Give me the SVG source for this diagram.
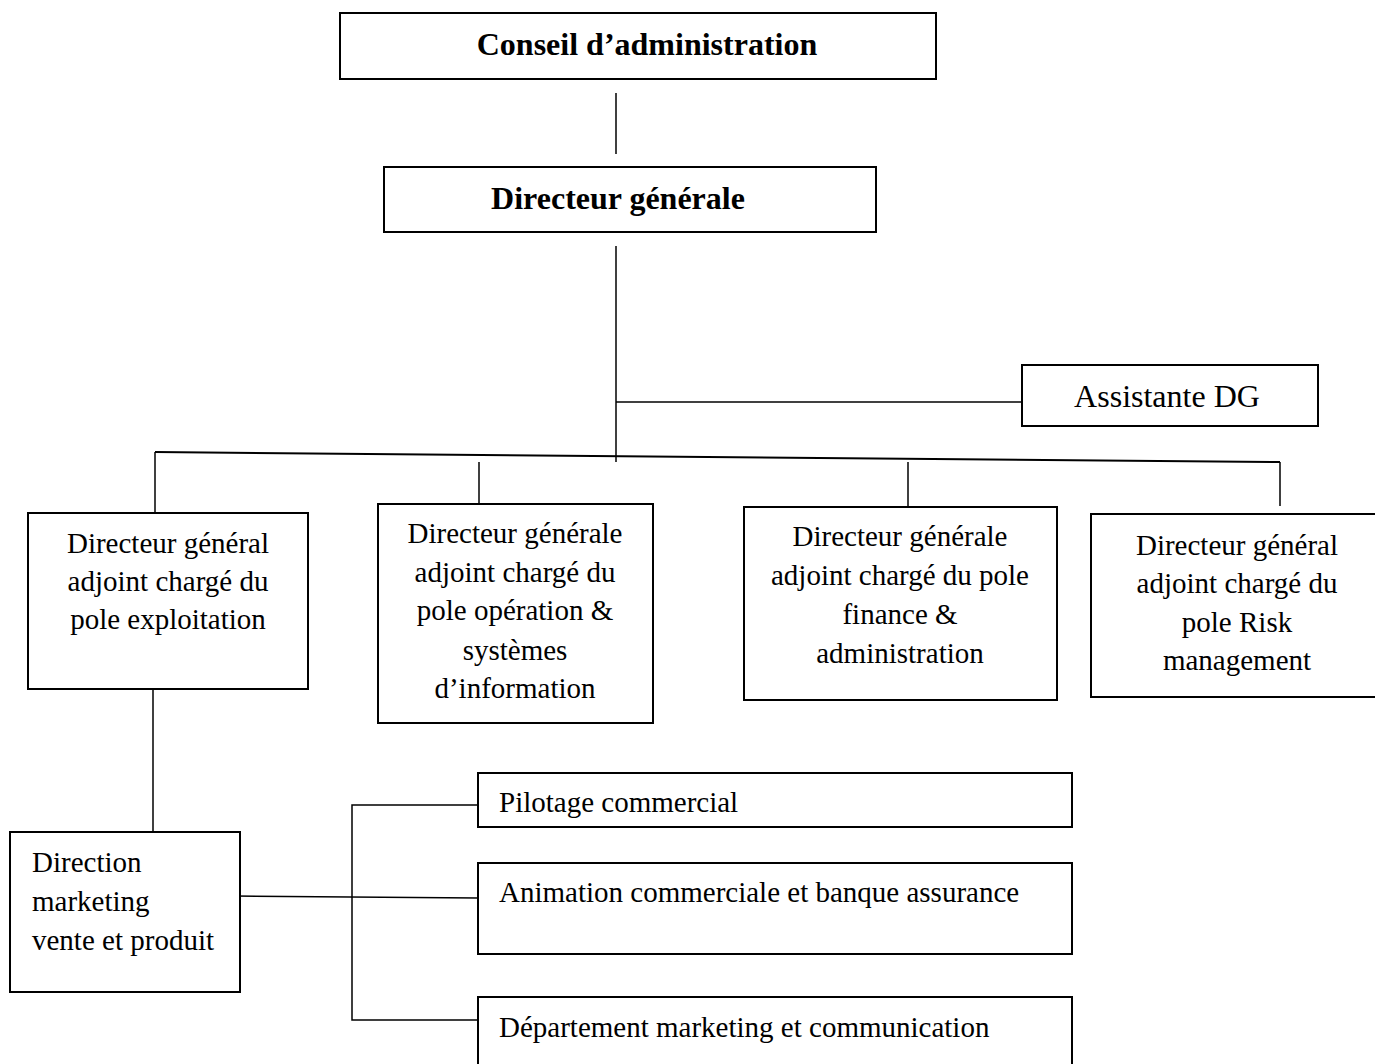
<svg xmlns="http://www.w3.org/2000/svg" width="1375" height="1064" viewBox="0 0 1375 1064">
<style>
rect{fill:#fff;stroke:#000;stroke-width:2}
line,polyline{stroke:#000;stroke-width:1.5;fill:none}
text{font-family:"Liberation Serif","Times New Roman",serif;font-size:29px;fill:#000}
.b{font-weight:bold;font-size:32px}
.c{text-anchor:middle}
</style>
<rect x="0" y="0" width="1375" height="1064" style="fill:#fff;stroke:none"/>
<g id="connectors">
<line x1="616" y1="93" x2="616" y2="154"/>
<line x1="616" y1="246" x2="616" y2="462"/>
<line x1="616" y1="402" x2="1022" y2="402"/>
<line x1="155" y1="452" x2="1280" y2="462" style="stroke-width:2"/>
<line x1="155" y1="452" x2="155" y2="513"/>
<line x1="479" y1="462" x2="479" y2="504"/>
<line x1="908" y1="462" x2="908" y2="507"/>
<line x1="1280" y1="462" x2="1280" y2="506"/>
<line x1="153" y1="690" x2="153" y2="832"/>
<line x1="235" y1="896" x2="478" y2="898"/>
<polyline points="478,805 352,805 352,1020 478,1020"/>
</g>
<g id="conseil"><rect x="340" y="13" width="596" height="66"/><text class="b c" x="647" y="55">Conseil d’administration</text></g>
<g id="dg"><rect x="384" y="167" width="492" height="65"/><text class="b c" x="618" y="209">Directeur générale</text></g>
<g id="assistante"><rect x="1022" y="365" width="296" height="61"/><text class="c" x="1167" y="407" style="font-size:32px">Assistante DG</text></g>
<g id="exploitation"><rect x="28" y="513" width="280" height="176"/><text class="c" x="168"><tspan x="168" y="553">Directeur général</tspan><tspan x="168" y="591">adjoint chargé du</tspan><tspan x="168" y="629">pole exploitation</tspan></text></g>
<g id="operation"><rect x="378" y="504" width="275" height="219"/><text class="c"><tspan x="515" y="543">Directeur générale</tspan><tspan x="515" y="582">adjoint chargé du</tspan><tspan x="515" y="620">pole opération &amp;</tspan><tspan x="515" y="660">systèmes</tspan><tspan x="515" y="698">d’information</tspan></text></g>
<g id="finance"><rect x="744" y="507" width="313" height="193"/><text class="c"><tspan x="900" y="546">Directeur générale</tspan><tspan x="900" y="585">adjoint chargé du pole</tspan><tspan x="900" y="624">finance &amp;</tspan><tspan x="900" y="663">administration</tspan></text></g>
<g id="risk"><rect x="1091" y="514" width="295" height="183"/><text class="c"><tspan x="1237" y="555">Directeur général</tspan><tspan x="1237" y="593">adjoint chargé du</tspan><tspan x="1237" y="632">pole Risk</tspan><tspan x="1237" y="670">management</tspan></text></g>
<g id="marketing"><rect x="10" y="832" width="230" height="160"/><text><tspan x="32" y="872">Direction</tspan><tspan x="32" y="911">marketing</tspan><tspan x="32" y="950">vente et produit</tspan></text></g>
<g id="pilotage"><rect x="478" y="773" width="594" height="54"/><text x="499" y="812">Pilotage commercial</text></g>
<g id="animation"><rect x="478" y="863" width="594" height="91"/><text x="499" y="902">Animation commerciale et banque assurance</text></g>
<g id="departement"><rect x="478" y="997" width="594" height="80"/><text x="499" y="1037">Département marketing et communication</text></g>
</svg>
